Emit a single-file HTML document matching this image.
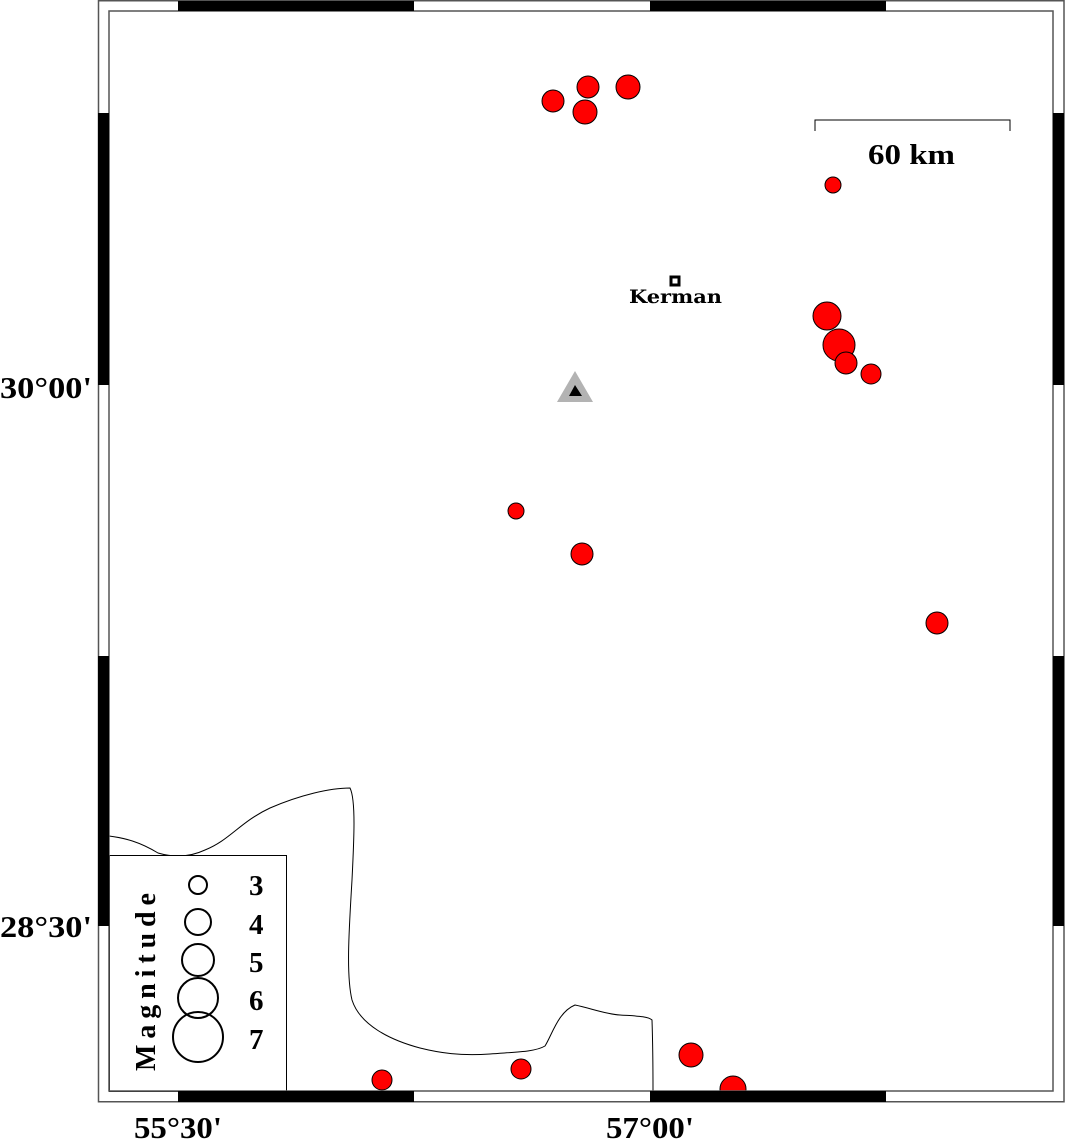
<!DOCTYPE html>
<html><head><meta charset="utf-8"><style>
html,body{margin:0;padding:0;background:#fff;}
svg{display:block;}
</style></head><body>
<svg width="1066" height="1140" viewBox="0 0 1066 1140" xmlns="http://www.w3.org/2000/svg">
<defs><clipPath id="c"><rect x="109" y="11" width="944" height="1080"/></clipPath></defs>
<rect width="1066" height="1140" fill="#fff"/>
<path d="M109,836 C125,838 140,842 158,853 C175,858 190,857 205,850 C230,840 240,822 270,808 C300,795 330,788 350,788 C356,800 354,840 352,880 C349,930 346,975 352,1000 C360,1025 390,1040 420,1048 C440,1053 460,1056 490,1054 C515,1052 535,1052 545,1046 C552,1035 558,1012 575,1005 C590,1008 605,1014 620,1015 C635,1016 648,1016 652,1020 C653,1050 653,1080 653,1091" fill="none" stroke="#000" stroke-width="1"/>
<g clip-path="url(#c)" fill="#f00" stroke="#000" stroke-width="1">
<circle cx="553" cy="101" r="11"/>
<circle cx="588" cy="87" r="11"/>
<circle cx="585" cy="112" r="12"/>
<circle cx="628" cy="87" r="12"/>
<circle cx="833" cy="185" r="8"/>
<circle cx="827" cy="316" r="14"/>
<circle cx="839" cy="345" r="16"/>
<circle cx="846" cy="363" r="11"/>
<circle cx="871" cy="374" r="10"/>
<circle cx="516" cy="511" r="8"/>
<circle cx="582" cy="554" r="11"/>
<circle cx="937" cy="623" r="11"/>
<circle cx="691" cy="1055" r="12"/>
<circle cx="733" cy="1089" r="13"/>
<circle cx="521" cy="1069" r="10"/>
<circle cx="382" cy="1080" r="10"/>
</g>
<polygon points="557,402 593,402 575,371" fill="#b3b3b3"/>
<polygon points="569,396 582,396 575,385" fill="#000"/>
<rect x="671" y="277" width="8" height="8" fill="#fff" stroke="#000" stroke-width="3"/>
<text x="629" y="303" font-family="DejaVu Serif, serif" font-weight="bold" font-size="19" textLength="93" lengthAdjust="spacingAndGlyphs">Kerman</text>
<path d="M815,131 V120 H1010 V131" fill="none" stroke="#000" stroke-width="1"/>
<text x="868" y="164" font-family="Liberation Serif, serif" font-weight="bold" font-size="29" textLength="87" lengthAdjust="spacingAndGlyphs">60 km</text>
<rect x="109.5" y="855.5" width="177" height="236" fill="#fff" stroke="#000" stroke-width="1"/>
<g fill="none" stroke="#000" stroke-width="2">
<circle cx="198" cy="885" r="9"/>
<circle cx="198" cy="922" r="13"/>
<circle cx="198" cy="960" r="16"/>
<circle cx="198" cy="998" r="20"/>
<circle cx="198" cy="1037" r="25"/>
</g>
<g font-family="Liberation Serif, serif" font-weight="bold" font-size="29">
<text x="249" y="895">3</text>
<text x="249" y="934">4</text>
<text x="249" y="972">5</text>
<text x="249" y="1010">6</text>
<text x="249" y="1049">7</text>
<text transform="translate(155,1071) rotate(-90)" font-size="28" textLength="178" lengthAdjust="spacing">Magnitude</text>
</g>
<g fill="none" stroke="#555" stroke-width="1.5">
<rect x="98.5" y="0.75" width="965.5" height="1101"/>
<rect x="109" y="11" width="944" height="1080"/>
</g>
<g fill="#000">
<rect x="178" y="1" width="236" height="10"/>
<rect x="650" y="1" width="236" height="10"/>
<rect x="178" y="1091" width="236" height="11"/>
<rect x="650" y="1091" width="236" height="11"/>
<rect x="98" y="113" width="11" height="272"/>
<rect x="98" y="656" width="11" height="270"/>
<rect x="1053" y="113" width="11" height="272"/>
<rect x="1053" y="656" width="11" height="270"/>
</g>
<g font-family="Liberation Serif, serif" font-weight="bold" font-size="31">
<text x="0" y="398" textLength="92" lengthAdjust="spacingAndGlyphs">30°00'</text>
<text x="0" y="937" textLength="92" lengthAdjust="spacingAndGlyphs">28°30'</text>
<text x="134" y="1138" textLength="88" lengthAdjust="spacingAndGlyphs">55°30'</text>
<text x="606" y="1138" textLength="88" lengthAdjust="spacingAndGlyphs">57°00'</text>
</g>
</svg>
</body></html>
